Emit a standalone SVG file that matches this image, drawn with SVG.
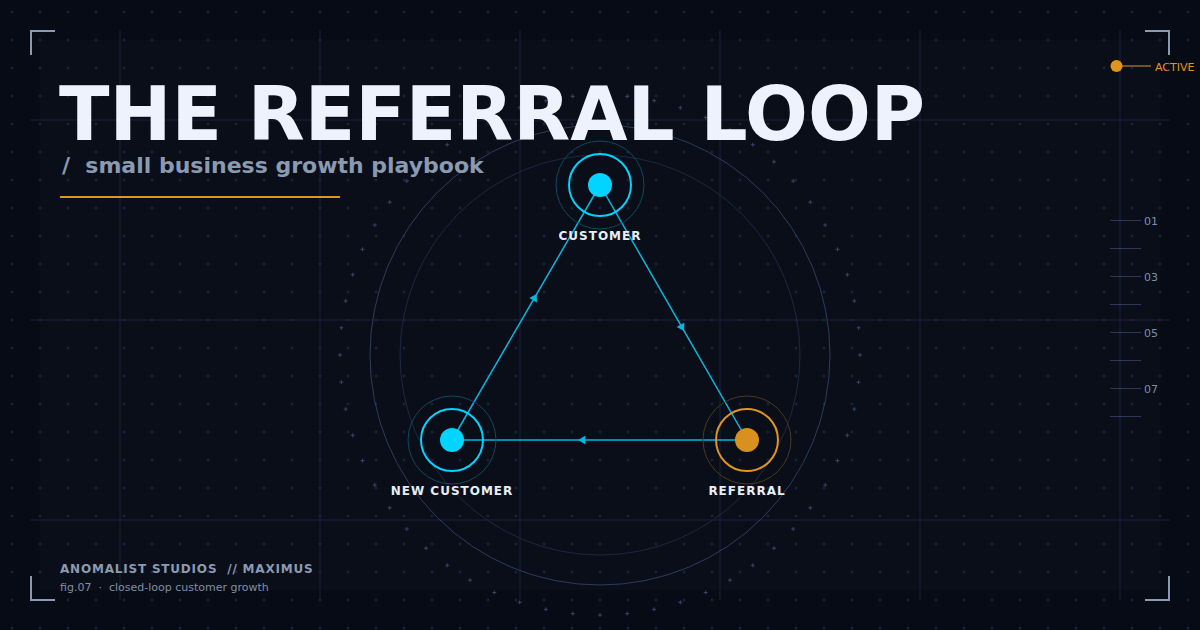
<svg xmlns="http://www.w3.org/2000/svg" xmlns:xlink="http://www.w3.org/1999/xlink" width="1200" height="630" viewBox="0 0 1200 630">
<defs>
<style>
.grid{stroke:#18223a;stroke-width:1;fill:none}
.corner{stroke:#8a9ab0;stroke-width:2;fill:none}
.tick{stroke:#2c3a58;stroke-width:1}
.tlabel{font-family:"DejaVu Sans",sans-serif;font-size:11px;fill:#7f8ea6}
.nlabel{font-family:"DejaVu Sans",sans-serif;font-size:12px;font-weight:bold;fill:#e8eef8;letter-spacing:1px;text-anchor:middle}
.edge{stroke:#00b8e0;stroke-width:1.5;fill:none;marker-mid:url(#arr)}
.mk{stroke:#34466a;stroke-width:1;fill:none}
</style>
<pattern id="dots" width="28" height="28" patternUnits="userSpaceOnUse" x="-2" y="-2">
<path d="M12.5 14h3M14 12.5v3" stroke="#1c2740" stroke-width="1" fill="none"/>
</pattern>
<marker id="arr" viewBox="0 0 10 10" refX="5" refY="5" markerWidth="9" markerHeight="9" markerUnits="userSpaceOnUse" orient="auto">
<path d="M1 0L9 5L1 10Z" fill="#00b8e0"/>
</marker>
<path id="p" d="M-2 0h4M0 -2v4"/>
</defs>
<rect width="1200" height="630" fill="#070b15"/>
<rect x="40" y="40" width="1120" height="550" fill="#0a0e18"/>
<rect width="1200" height="630" fill="url(#dots)"/>
<g id="grid" class="grid">
<path d="M120 30V600M320 30V600M520 30V600M720 30V600M920 30V600M1120 30V600"/>
<path d="M30 120H1170M30 320H1170M30 520H1170"/>
</g>
<g id="corners" class="corner">
<path d="M31 55V31H55"/>
<path d="M1145 31H1169V55"/>
<path d="M31 576V600H55"/>
<path d="M1145 600H1169V576"/>
</g>
<g id="rings">
<circle cx="600" cy="355" r="230" fill="none" stroke="#2c3c60" stroke-width="1"/>
<circle cx="600" cy="355" r="200" fill="none" stroke="#1c2844" stroke-width="1"/>
</g>
<g id="ring-marks" class="mk">
<use href="#p" x="600" y="95"/><use href="#p" x="627.2" y="96.4"/><use href="#p" x="654.1" y="100.7"/><use href="#p" x="680.3" y="107.7"/><use href="#p" x="705.7" y="117.5"/><use href="#p" x="730" y="129.8"/><use href="#p" x="752.8" y="144.7"/><use href="#p" x="774" y="161.8"/><use href="#p" x="793.2" y="181"/><use href="#p" x="810.3" y="202.2"/><use href="#p" x="825.2" y="225"/><use href="#p" x="837.5" y="249.3"/><use href="#p" x="847.3" y="274.7"/><use href="#p" x="854.3" y="301"/><use href="#p" x="858.6" y="327.8"/>
<use href="#p" x="860" y="355"/><use href="#p" x="858.6" y="382.2"/><use href="#p" x="854.3" y="409.1"/><use href="#p" x="847.3" y="435.3"/><use href="#p" x="837.5" y="460.7"/><use href="#p" x="825.2" y="485"/><use href="#p" x="810.3" y="507.8"/><use href="#p" x="793.2" y="529"/><use href="#p" x="774" y="548.2"/><use href="#p" x="752.8" y="565.3"/><use href="#p" x="730" y="580.2"/><use href="#p" x="705.7" y="592.5"/><use href="#p" x="680.3" y="602.3"/><use href="#p" x="654.1" y="609.3"/><use href="#p" x="627.2" y="613.6"/>
<use href="#p" x="600" y="615"/><use href="#p" x="572.8" y="613.6"/><use href="#p" x="545.9" y="609.3"/><use href="#p" x="519.7" y="602.3"/><use href="#p" x="494.3" y="592.5"/><use href="#p" x="470" y="580.2"/><use href="#p" x="447.2" y="565.3"/><use href="#p" x="426" y="548.2"/><use href="#p" x="406.8" y="529"/><use href="#p" x="389.7" y="507.8"/><use href="#p" x="374.8" y="485"/><use href="#p" x="362.5" y="460.7"/><use href="#p" x="352.7" y="435.3"/><use href="#p" x="345.7" y="409.1"/><use href="#p" x="341.4" y="382.2"/>
<use href="#p" x="340" y="355"/><use href="#p" x="341.4" y="327.8"/><use href="#p" x="345.7" y="301"/><use href="#p" x="352.7" y="274.7"/><use href="#p" x="362.5" y="249.3"/><use href="#p" x="374.8" y="225"/><use href="#p" x="389.7" y="202.2"/><use href="#p" x="406.8" y="181"/><use href="#p" x="426" y="161.8"/><use href="#p" x="447.2" y="144.7"/><use href="#p" x="470" y="129.8"/><use href="#p" x="494.3" y="117.5"/><use href="#p" x="519.7" y="107.7"/><use href="#p" x="545.9" y="100.7"/><use href="#p" x="572.8" y="96.4"/>
</g>
<g id="title">
<text x="59" y="140" font-family="DejaVu Sans, sans-serif" font-size="74" font-weight="bold" fill="#eef2fc">THE REFERRAL LOOP</text>
<text x="62" y="173" font-family="DejaVu Sans, sans-serif" font-size="22" font-weight="bold" fill="#8a9ab0" style="white-space:pre">/  small business growth playbook</text>
<rect x="60" y="196" width="280" height="2" fill="#e0951f"/>
</g>
<g id="status">
<circle cx="1116.5" cy="66" r="6" fill="#e0951f"/>
<path d="M1122 66H1151" stroke="#e0951f" stroke-width="1"/>
<text x="1155" y="71" font-family="DejaVu Sans, sans-serif" font-size="11" fill="#e0951f">ACTIVE</text>
</g>
<g id="scale">
<path class="tick" d="M1110 220.5H1141M1110 248.5H1141M1110 276.5H1141M1110 304.5H1141M1110 332.5H1141M1110 360.5H1141M1110 388.5H1141M1110 416.5H1141"/>
<text class="tlabel" x="1144" y="225">01</text>
<text class="tlabel" x="1144" y="281">03</text>
<text class="tlabel" x="1144" y="337">05</text>
<text class="tlabel" x="1144" y="393">07</text>
</g>
<g id="connectors">
<path class="edge" d="M600 185L682.3 327.8L747 440"/>
<path class="edge" d="M747 440L581.8 440L452 440"/>
<path class="edge" d="M452 440L534.9 297.2L600 185"/>
</g>
<g id="node-customer">
<circle cx="600" cy="185" r="44" fill="none" stroke="#0c4a5e" stroke-width="1"/>
<circle cx="600" cy="185" r="31" fill="none" stroke="#00d4ff" stroke-width="2"/>
<circle cx="600" cy="185" r="12" fill="#00d4ff"/>
<text class="nlabel" x="600" y="240">CUSTOMER</text>
</g>
<g id="node-new-customer">
<circle cx="452" cy="440" r="44" fill="none" stroke="#0c4a5e" stroke-width="1"/>
<circle cx="452" cy="440" r="31" fill="none" stroke="#00d4ff" stroke-width="2"/>
<circle cx="452" cy="440" r="12" fill="#00d4ff"/>
<text class="nlabel" x="452" y="495">NEW CUSTOMER</text>
</g>
<g id="node-referral">
<circle cx="747" cy="440" r="44" fill="none" stroke="#4a3a1e" stroke-width="1"/>
<circle cx="747" cy="440" r="31" fill="none" stroke="#e0951f" stroke-width="2"/>
<circle cx="747" cy="440" r="12" fill="#d8901e"/>
<text class="nlabel" x="747" y="495">REFERRAL</text>
</g>
<g id="footer">
<text x="60" y="573" font-family="DejaVu Sans, sans-serif" font-size="12" font-weight="bold" fill="#8a9ab0" letter-spacing="0.8" style="white-space:pre">ANOMALIST STUDIOS  // MAXIMUS</text>
<text x="60" y="591" font-family="DejaVu Sans, sans-serif" font-size="11" fill="#7f8ea6" style="white-space:pre">fig.07  ·  closed-loop customer growth</text>
</g>
</svg>
